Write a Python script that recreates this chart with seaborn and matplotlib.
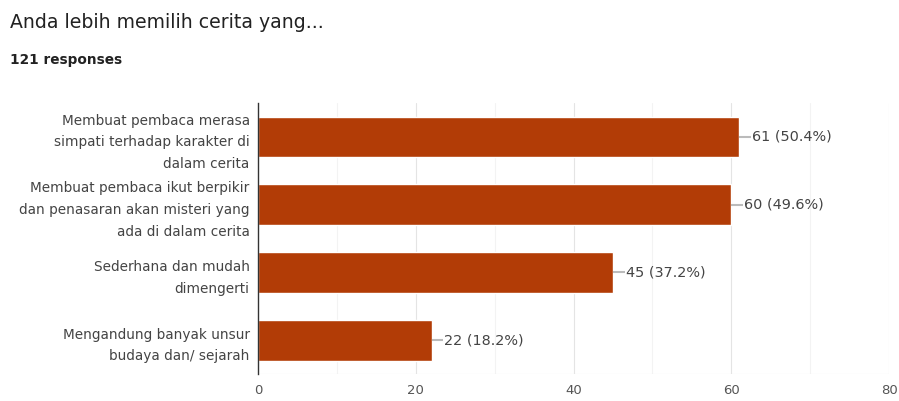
import matplotlib
matplotlib.use("Agg")
import matplotlib.pyplot as plt
import seaborn as sns
import pandas as pd

categories = [
    "Membuat pembaca merasa\nsimpati terhadap karakter di\ndalam cerita",
    "Membuat pembaca ikut berpikir\ndan penasaran akan misteri yang\nada di dalam cerita",
    "Sederhana dan mudah\ndimengerti",
    "Mengandung banyak unsur\nbudaya dan/ sejarah",
]
counts = [61, 60, 45, 22]
percents = ["50.4%", "49.6%", "37.2%", "18.2%"]
xticks = [0, 20, 40, 60, 80]
title = "Anda lebih memilih cerita yang..."
subtitle = "121 responses"

sns.set_theme(style="white")
plt.rcParams['font.family'] = ['DejaVu Sans']

df = pd.DataFrame({"cat": categories, "n": counts})

fig = plt.figure(figsize=(8.99, 4.01), dpi=100)
ax = fig.add_axes([0.287, 0.067, 0.702, 0.676])

# gridlines
for v in [10, 30, 50, 70]:
    ax.axvline(v, color="#f3f3f3", lw=0.8, zorder=0)
for v in [20, 40, 60, 80]:
    ax.axvline(v, color="#e4e4e4", lw=0.8, zorder=0)
ax.axhline(3.5, color="#e8e8e8", lw=0.8, zorder=0)

sns.barplot(data=df, y="cat", x="n", orient="h", color="#b23c06",
            saturation=1, width=0.6, ax=ax, zorder=2)

ax.set_xlim(0, 80)
ax.set_ylim(3.5, -0.5)
ax.set_xticks(xticks)
ax.set_xticklabels([str(t) for t in xticks], fontsize=9.5, color="#555555")
ax.tick_params(axis="x", length=0, pad=7)
ax.tick_params(axis="y", length=0, pad=6)
for lbl in ax.get_yticklabels():
    lbl.set_fontsize(9.8)
    lbl.set_color("#444444")
    lbl.set_linespacing(1.7)
    lbl.set_horizontalalignment("right")
    lbl.set_multialignment("right")
ax.set_xlabel("")
ax.set_ylabel("")
for s in ["top", "right", "bottom"]:
    ax.spines[s].set_visible(False)
ax.spines["left"].set_color("#333333")
ax.spines["left"].set_linewidth(1.0)

for i, (c, p) in enumerate(zip(counts, percents)):
    ax.plot([c, c + 1.5], [i, i], color="#bbbbbb", lw=1.5, zorder=3,
            solid_capstyle="butt")
    ax.text(c + 1.6, i, f"{c} ({p})", va="center", ha="left", fontsize=10.4,
            color="#444444", zorder=4)

fig.text(10 / 899, 1 - 22 / 401, title, fontsize=13.6, color="#222222",
         va="center", ha="left")
fig.text(10 / 899, 1 - 60 / 401, subtitle, fontsize=9.8, color="#222222",
         va="center", ha="left", fontweight="bold")

fig.savefig("out.png", dpi=100, facecolor="white")
